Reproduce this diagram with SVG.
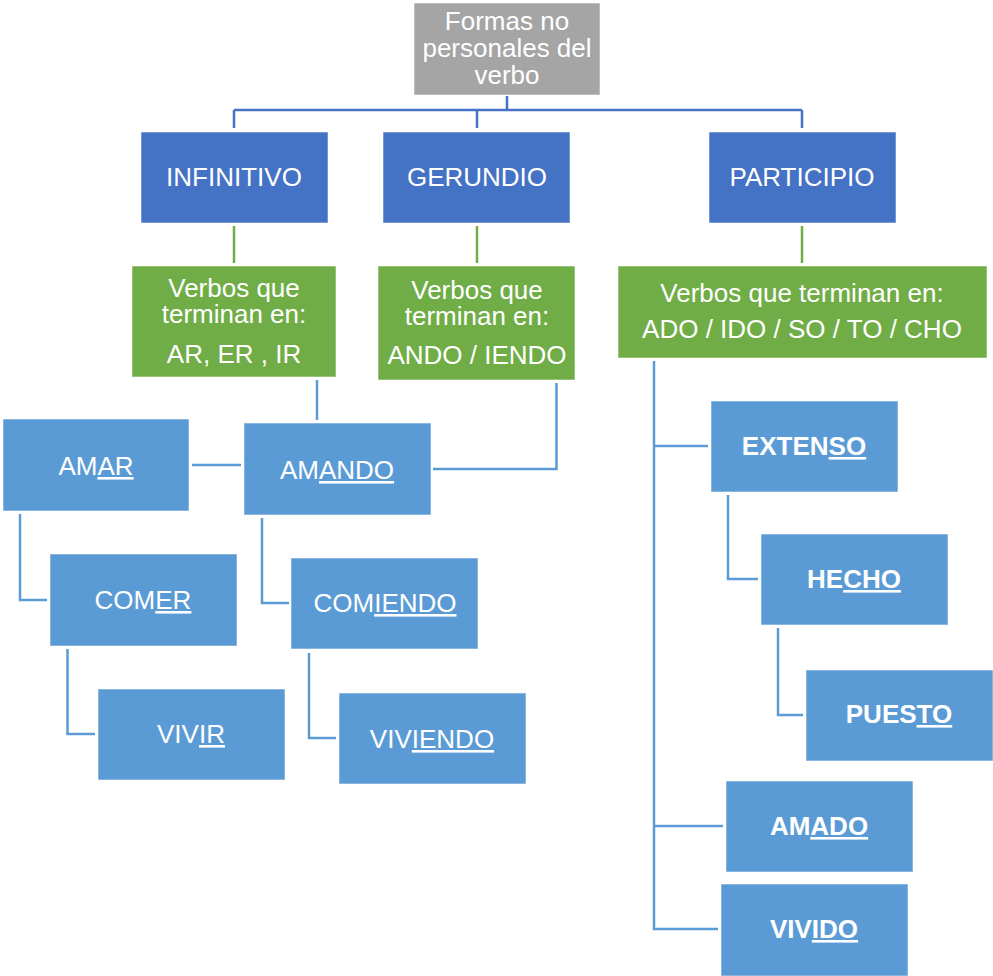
<svg xmlns="http://www.w3.org/2000/svg" width="993" height="976" viewBox="0 0 993 976">
<style>
.box{stroke:#ffffff;stroke-opacity:0.55;stroke-width:1}
.gray{fill:#A5A5A5}
.dblue{fill:#4472C4}
.green{fill:#70AD47}
.lblue{fill:#5B9BD5}
text{font-family:"Liberation Sans",Arial,sans-serif;font-size:26px;fill:#ffffff;text-anchor:middle}
.b{font-weight:bold}
.u{text-decoration:underline}
.c1{stroke:#4472C4;stroke-width:2.5;fill:none}
.c2{stroke:#70AD47;stroke-width:2.5;fill:none}
.c3{stroke:#5B9BD5;stroke-width:2.5;fill:none}
</style>
<rect width="993" height="976" fill="#ffffff"/>
<g id="connectors">
<path class="c1" d="M507,96V110M234,110H802M234,110V128M477,110V128M802,110V128"/>
<path class="c2" d="M234,226V263M477,226V263M802,226V263"/>
<path class="c3" d="M317,380V420"/>
<path class="c3" d="M556.5,383V469H433"/>
<path class="c3" d="M192,465H241"/>
<path class="c3" d="M20,514V600H47"/>
<path class="c3" d="M67.5,649V734H95"/>
<path class="c3" d="M262,518V603H289"/>
<path class="c3" d="M309,653V738H336"/>
<path class="c3" d="M654,361V929H718M654,446H708M654,826H723"/>
<path class="c3" d="M728,495V579H758"/>
<path class="c3" d="M778,628V715H803"/>
</g>
<g id="root">
<rect class="box gray" x="414" y="3" width="186" height="92"/>
<text x="507" y="30">Formas no</text>
<text x="507" y="57">personales del</text>
<text x="507" y="84">verbo</text>
</g>
<g id="infinitivo">
<rect class="box dblue" x="141" y="132" width="187" height="91"/>
<text x="234" y="186">INFINITIVO</text>
</g>
<g id="gerundio">
<rect class="box dblue" x="383" y="132" width="187" height="91"/>
<text x="477" y="186">GERUNDIO</text>
</g>
<g id="participio">
<rect class="box dblue" x="709" y="132" width="187" height="91"/>
<text x="802" y="186">PARTICIPIO</text>
</g>
<g id="verbos-inf">
<rect class="box green" x="132" y="266" width="204" height="111"/>
<text x="234" y="297">Verbos que</text>
<text x="234" y="323">terminan en:</text>
<text x="234" y="363">AR, ER , IR</text>
</g>
<g id="verbos-ger">
<rect class="box green" x="378" y="266" width="197" height="114"/>
<text x="477" y="299">Verbos que</text>
<text x="477" y="325">terminan en:</text>
<text x="477" y="364">ANDO / IENDO</text>
</g>
<g id="verbos-part">
<rect class="box green" x="618" y="266" width="369" height="92"/>
<text x="802" y="302">Verbos que terminan en:</text>
<text x="802" y="338">ADO / IDO / SO / TO / CHO</text>
</g>
<g id="amar">
<rect class="box lblue" x="3" y="419" width="186" height="92"/>
<text x="96" y="475">AM<tspan class="u">AR</tspan></text>
</g>
<g id="amando">
<rect class="box lblue" x="244" y="423" width="187" height="92"/>
<text x="337" y="479">AM<tspan class="u">ANDO</tspan></text>
</g>
<g id="comer">
<rect class="box lblue" x="50" y="554" width="187" height="92"/>
<text x="143" y="609">COM<tspan class="u">ER</tspan></text>
</g>
<g id="comiendo">
<rect class="box lblue" x="291" y="558" width="187" height="91"/>
<text x="385" y="612">COM<tspan class="u">IENDO</tspan></text>
</g>
<g id="vivir">
<rect class="box lblue" x="98" y="689" width="187" height="91"/>
<text x="191" y="743">VIV<tspan class="u">IR</tspan></text>
</g>
<g id="viviendo">
<rect class="box lblue" x="339" y="693" width="187" height="91"/>
<text x="432" y="748">VIV<tspan class="u">IENDO</tspan></text>
</g>
<g id="extenso">
<rect class="box lblue" x="711" y="401" width="187" height="91"/>
<text class="b" x="804" y="455">EXTEN<tspan class="u">SO</tspan></text>
</g>
<g id="hecho">
<rect class="box lblue" x="761" y="534" width="187" height="91"/>
<text class="b" x="854" y="588">HE<tspan class="u">CHO</tspan></text>
</g>
<g id="puesto">
<rect class="box lblue" x="806" y="670" width="187" height="91"/>
<text class="b" x="899" y="723">PUES<tspan class="u">TO</tspan></text>
</g>
<g id="amado">
<rect class="box lblue" x="726" y="781" width="187" height="91"/>
<text class="b" x="819" y="835">AM<tspan class="u">ADO</tspan></text>
</g>
<g id="vivido">
<rect class="box lblue" x="721" y="884" width="187" height="92"/>
<text class="b" x="814" y="938">VIV<tspan class="u">IDO</tspan></text>
</g>
</svg>
